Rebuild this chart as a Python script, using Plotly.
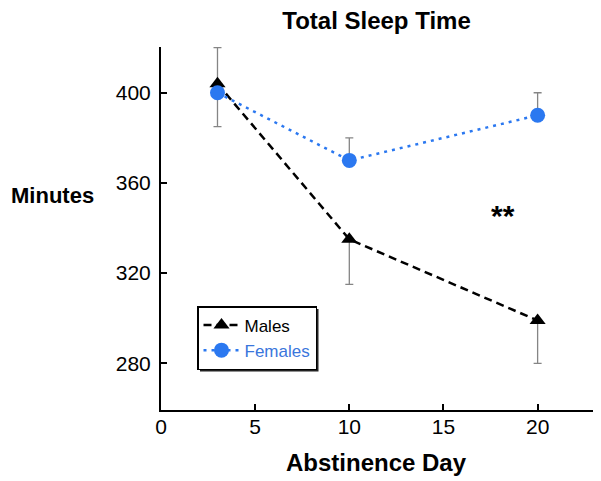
import plotly.graph_objects as go

days = [3, 10, 20]
males = [404, 335, 299]
males_err_plus = [16, 0, 0]
males_err_minus = [0, 20, 19]
females = [400, 370, 390]
females_err_plus = [0, 10, 10]
females_err_minus = [15, 0, 0]
x_ticks = [0, 5, 10, 15, 20]
y_ticks = [280, 320, 360, 400]

BLUE = "#2b78f0"
FONT = "Liberation Sans, Arial, Helvetica, sans-serif"

# plot area in figure pixels
L, R, T, B = 153, 588, 39, 402
W, H = R - L, B - T

def px(x):
    return (x - L) / W

def py(y):
    return (B - y) / H

fig = go.Figure()
fig.add_trace(go.Scatter(
    x=days, y=males, name="Males", mode="lines+markers",
    line=dict(color="black", width=2.5, dash="8px,5px"),
    marker=dict(symbol="triangle-up", size=14, color="black"),
    error_y=dict(type="data", symmetric=False, array=males_err_plus,
                 arrayminus=males_err_minus, color="#858585", thickness=1.3, width=4),
))
fig.add_trace(go.Scatter(
    x=days, y=females, name='<span style="color:#3a76dc">Females</span>', mode="lines+markers",
    line=dict(color=BLUE, width=2.5, dash="3px,5px"),
    marker=dict(symbol="circle", size=15, color=BLUE),
    error_y=dict(type="data", symmetric=False, array=females_err_plus,
                 arrayminus=females_err_minus, color="#858585", thickness=1.3, width=4),
))

fig.add_annotation(x=18.15, y=347, xref="x", yref="y", text="<b>**</b>", showarrow=False,
                   font=dict(size=30, color="black", family=FONT), yshift=-3)
fig.add_annotation(x=px(44), y=py(187), xref="paper", yref="paper", text="<b>Minutes</b>",
                   showarrow=False, xanchor="center", yanchor="middle",
                   font=dict(size=22, color="black", family=FONT))
fig.add_annotation(x=px(368.5), y=py(454), xref="paper", yref="paper", text="<b>Abstinence Day</b>",
                   showarrow=False, xanchor="center", yanchor="middle",
                   font=dict(size=24, color="black", family=FONT))

# legend drop shadow
lx0, ly0, lw, lh = 189, 298, 119, 63
fig.add_shape(type="rect", xref="paper", yref="paper",
              x0=px(lx0 + 3), x1=px(lx0 + lw + 2.5), y0=py(ly0 + lh + 2.5), y1=py(ly0 + 3),
              fillcolor="#222", line=dict(width=0), layer="above")

fig.update_layout(
    width=601, height=481,
    margin=dict(l=L, r=601 - R, t=T, b=481 - B),
    paper_bgcolor="white", plot_bgcolor="white",
    font=dict(family=FONT, color="black"),
    title=dict(text="<b>Total Sleep Time</b>", x=368.5 / 601, xanchor="center",
               y=1 - 13 / 481, yanchor="middle",
               font=dict(size=24, color="black", family=FONT)),
    showlegend=True,
    legend=dict(x=px(lx0), y=py(ly0), xanchor="left", yanchor="top",
                bgcolor="white", bordercolor="black", borderwidth=1.5,
                font=dict(size=17, color="black", family=FONT),
                itemwidth=36),
)

fig.update_xaxes(range=[0, 23.1], tickvals=x_ticks, ticks="inside", ticklen=6, tickwidth=1.5,
                 tickcolor="black", showline=True, linecolor="black", linewidth=2,
                 showgrid=False, zeroline=False, tickfont=dict(size=21, family=FONT),
                 ticklabelstandoff=-3)
fig.update_yaxes(range=[259.3, 420.3], tickvals=y_ticks, ticks="inside", ticklen=6, tickwidth=1.5,
                 tickcolor="black", showline=True, linecolor="black", linewidth=2,
                 showgrid=False, zeroline=False, tickfont=dict(size=21, family=FONT),
                 ticklabelstandoff=4)

fig.write_html("out.html")
